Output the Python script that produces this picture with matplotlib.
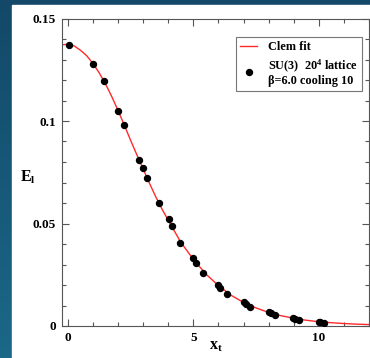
import numpy as np
import matplotlib
matplotlib.use("Agg")
import matplotlib.pyplot as plt
from matplotlib.patches import Rectangle
from matplotlib.ticker import MultipleLocator, FixedLocator

# ---- data ----
pts_x = [0.03, 1.0, 1.43, 1.99, 2.24, 2.83, 3.0, 3.16, 3.62, 4.01, 4.13, 4.48,
         5.0, 5.1, 5.39, 5.99, 6.08, 6.32, 7.0, 7.09, 7.27, 8.0, 8.08, 8.24,
         8.99, 9.06, 9.2, 10.0, 10.05, 10.19]
pts_y = [0.137, 0.128, 0.1194, 0.1049, 0.098, 0.0809, 0.0773, 0.0722, 0.0598,
         0.052, 0.0487, 0.0404, 0.033, 0.0307, 0.0257, 0.0198, 0.0183, 0.0155,
         0.0116, 0.0109, 0.0093, 0.0067, 0.0062, 0.0054, 0.0038, 0.0034,
         0.0031, 0.002, 0.0018, 0.0015]

fit_x = [-0.25, 0.0, 0.25, 0.5, 0.75, 1.0, 1.25, 1.5, 1.75, 2.0, 2.25, 2.5, 2.75,
         3.0, 3.25, 3.5, 3.75, 4.0, 4.5, 5.0, 5.5, 6.0, 6.5, 7.0, 7.5, 8.0,
         8.5, 9.0, 9.5, 10.0, 10.5, 11.0, 11.5, 12.0]
fit_y = [0.1372, 0.1374, 0.1366, 0.1345, 0.1318, 0.1280, 0.1234, 0.1180, 0.1118,
         0.1050, 0.0979, 0.0905, 0.0834, 0.0765, 0.0696, 0.0630, 0.0570, 0.0515,
         0.0408, 0.0325, 0.0253, 0.0197, 0.0150, 0.0115, 0.0088, 0.0066,
         0.0050, 0.0038, 0.0028, 0.0021, 0.0016, 0.0012, 0.0009, 0.0007]

xticks = [0, 5, 10]
xtick_labels = ["0", "5", "10"]
yticks = [0, 0.05, 0.1, 0.15]
ytick_labels = ["0", "0.05", "0.1", "0.15"]

plt.rcParams['font.family'] = ['Liberation Serif', 'DejaVu Serif']
plt.rcParams['font.weight'] = 'bold'
plt.rcParams['mathtext.fontset'] = 'custom'
plt.rcParams['mathtext.rm'] = 'Liberation Serif:bold'
plt.rcParams['mathtext.it'] = 'Liberation Serif:bold'
plt.rcParams['mathtext.bf'] = 'Liberation Serif:bold'

W, H = 370, 358
fig = plt.figure(figsize=(W / 100, H / 100), dpi=100)

# background gradient (slide)
bg = fig.add_axes([0, 0, 1, 1], zorder=-10)
bg.set_axis_off()
c_top = np.array([0x13, 0x48, 0x68]) / 255
c_bot = np.array([0x1b, 0x68, 0x88]) / 255
t = np.linspace(0, 1, 200)[:, None, None]
grad = c_top * (1 - t) + c_bot * t
grad = np.repeat(grad, 2, axis=1)
bg.imshow(grad, aspect='auto', extent=[0, 1, 0, 1], origin='upper')
bg.add_patch(Rectangle((12 / W, 0), 1 - 12 / W, 1 - 5 / H, color='white'))
bg.set_xlim(0, 1)
bg.set_ylim(0, 1)

ax = fig.add_axes([61.7 / W, 1 - 326 / H, (369 - 61.7) / W, (326 - 18.5) / H])
ax.set_facecolor('white')
ax.plot(fit_x, fit_y, color='#ff2a2a', lw=1.0, label='Clem fit', zorder=2)
ax.plot(pts_x, pts_y, 'o', color='black', ms=4.3, ls='none',
        label="SU(3)  20$^{4}$ lattice\n\u03b2=6.0 cooling 10", zorder=3)

ax.set_xlim(-0.25, 12)
ax.set_ylim(0, 0.15)
ax.xaxis.set_major_locator(FixedLocator(xticks))
ax.xaxis.set_minor_locator(MultipleLocator(1))
ax.yaxis.set_major_locator(FixedLocator(yticks))
ax.yaxis.set_minor_locator(MultipleLocator(0.01))
ax.set_yticklabels(ytick_labels)
ax.set_xticklabels(xtick_labels)
ax.tick_params(which='both', direction='in', top=True, right=True,
               color='#555555', labelsize=9.5, pad=4)
ax.tick_params(which='major', length=5, width=0.8)
ax.tick_params(which='minor', length=3, width=0.8)
for s in ax.spines.values():
    s.set_color('#555555')
    s.set_linewidth(0.8)
for lab in ax.get_xticklabels() + ax.get_yticklabels():
    lab.set_fontweight('bold')

fig.text(20 / W, 1 - 177 / H, "E$_{\\rm l}$", fontsize=11.5, ha='left', va='center')
fig.text(216 / W, 1 - 346 / H, "x$_{\\rm t}$", fontsize=11.5, ha='center', va='center')

leg = ax.legend(loc='upper right', bbox_to_anchor=(0.978, 0.94),
                frameon=True, fancybox=False, edgecolor='#555555',
                handlelength=1.4, handletextpad=0.9, borderpad=0.35,
                labelspacing=0.35, borderaxespad=0.0,
                prop={'weight': 'bold', 'size': 8.8})
leg.get_frame().set_linewidth(0.8)
for tx in leg.get_texts():
    tx.set_multialignment('left')
    tx.set_linespacing(1.05)

fig.savefig('out.png', dpi=100)
